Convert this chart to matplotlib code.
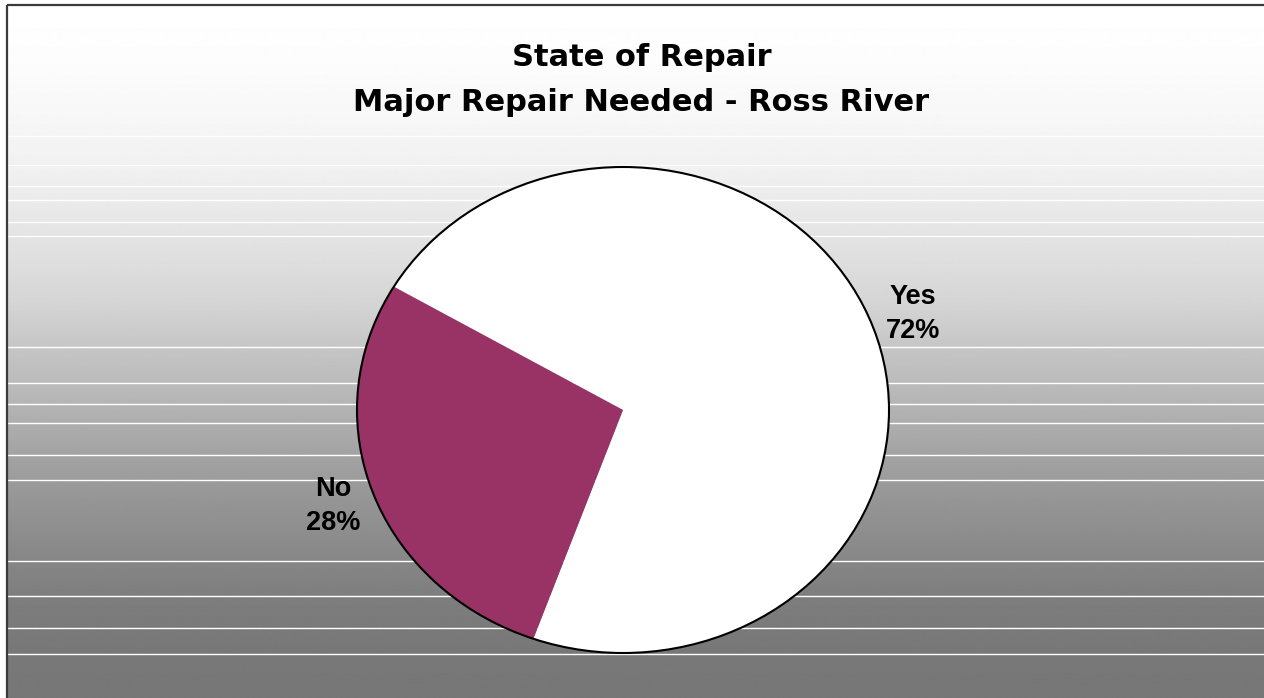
import numpy as np
import matplotlib
matplotlib.use("Agg")
from matplotlib import pyplot as plt
from matplotlib.patches import Ellipse

# survey answers for Ross River
CATEGORIES = ["Yes", "No"]
PERCENTS = [72, 28]
SLICE_COLORS = ["#ffffff", "#993366"]
TITLE_LINES = ["State of Repair", "Major Repair Needed - Ross River"]

W, H = 1264, 698
DPI = 100.0

fig = plt.figure(figsize=(W / DPI, H / DPI), dpi=DPI)
fig.patch.set_facecolor("white")

# background axes in pixel units (y grows downward)
bg = fig.add_axes([0, 0, 1, 1])
bg.set_xlim(0, W)
bg.set_ylim(H, 0)
bg.axis("off")

# grey fade from white at the top to dark grey at the bottom
ys = np.arange(H)
stops_y = [5, 60, 120, 175, 235, 300, 346, 400, 450, 500, 560, 600, 650, 698]
stops_v = [255, 252, 246, 239, 227, 213, 197, 181, 164, 149, 134, 125, 120, 119]
shade = np.interp(ys, stops_y, stops_v) / 255.0
grad = np.repeat(shade[:, None], 2, axis=1)
bg.imshow(grad, cmap="gray", vmin=0, vmax=1, aspect="auto",
          extent=[7, W, H, 5], interpolation="bilinear", zorder=0)

# thin white streaks across the chart area
for y in [135, 164, 185, 199, 221, 235, 346, 382, 403, 422, 454, 479, 560, 595, 627, 653]:
    bg.plot([8, W], [y + 0.5, y + 0.5], color="white", lw=1.0, zorder=1)

# chart area frame (left and top edges)
bg.plot([7, 7], [5, H], color="#3a3a3a", lw=1.6, zorder=2, solid_capstyle="butt")
bg.plot([7, W], [5, 5], color="#3a3a3a", lw=1.6, zorder=2, solid_capstyle="butt")

# title, two lines
bg.text(641.5, 66, TITLE_LINES[0], ha="center", va="baseline",
        fontfamily="DejaVu Sans", fontweight="bold", fontsize=22, zorder=3)
bg.text(641.5, 111, TITLE_LINES[1], ha="center", va="baseline",
        fontfamily="DejaVu Sans", fontweight="bold", fontsize=22, zorder=3)

# pie sits in a slightly wide box so it comes out as an ellipse
cx, cy, rx, ry = 623, 410, 266, 243
ax = fig.add_axes([(cx - rx) / W, (H - cy - ry) / H, 2 * rx / W, 2 * ry / H])
ax.patch.set_alpha(0)

labels = [f"{c}\n{p}%" for c, p in zip(CATEGORIES, PERCENTS)]
wedges, texts = ax.pie(PERCENTS, labels=labels, colors=SLICE_COLORS,
                       startangle=250.3, counterclock=True, labeldistance=1.16,
                       wedgeprops=dict(linewidth=0, antialiased=True),
                       textprops=dict(ha="center", va="center", multialignment="center",
                                      fontfamily="Liberation Sans", fontweight="bold",
                                      fontsize=19.5, linespacing=1.42))
for w in wedges:
    w.set_clip_on(False)
ax.set_aspect("auto")
ax.set_xlim(-1, 1)
ax.set_ylim(-1, 1)
ax.add_patch(Ellipse((0, 0), 2, 2, fill=False, ec="black", lw=1.5, clip_on=False))
ax.axis("off")

plt.savefig("out.png", dpi=DPI)
